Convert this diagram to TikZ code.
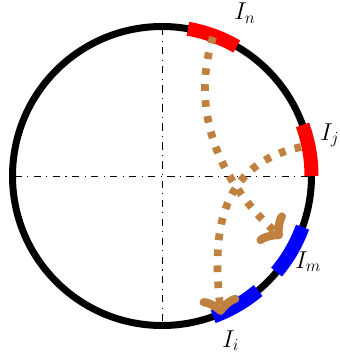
\documentclass[tikz,border=0pt]{standalone}
\usepackage{graphicx}
\usetikzlibrary{arrows.meta}
\begin{document}
\begin{tikzpicture}[x=0.75pt,y=-0.75pt,
  axisline/.style={line width=0.6pt, dash pattern=on 5.5pt off 4pt on 0.8pt off 4pt},
  ring/.style={line width=5.25pt},
  redarc/.style={red, line width=10.5pt},
  bluearc/.style={blue, line width=10.5pt},
  flow/.style={draw={rgb,255:red,191;green,128;blue,64}, line width=5.8pt,
    dash pattern=on 5pt off 7pt,
    -{Classical TikZ Rightarrow[length=14pt,width=30pt,line width=6.2pt,round]}},
  lbl/.style={inner sep=0pt, anchor=base west, font=\LARGE}]
\useasboundingbox (0,0) rectangle (339,353);
\coordinate (O) at (162,176);
% axes
\draw[axisline] ([xshift=-110.5pt]O) -- ([xshift=110.5pt]O);
\draw[axisline] ([yshift=111pt]O) -- ([yshift=-111pt]O);
% circle
\draw[ring] (O) circle[radius=112.125pt];
% intervals
\draw[redarc] ([shift={(60:112.125pt)}]O) arc[start angle=60, end angle=80, radius=112.125pt];
\draw[redarc] ([shift={(0:112.125pt)}]O) arc[start angle=0, end angle=20, radius=112.125pt];
\draw[bluearc] ([shift={(-40:112.125pt)}]O) arc[start angle=-40, end angle=-20, radius=112.125pt];
\draw[bluearc] ([shift={(-70:112.125pt)}]O) arc[start angle=-70, end angle=-50, radius=112.125pt];
% flows
\coordinate (a1) at (213,37);
\coordinate (a2) at (282,238);
\coordinate (b1) at (301,147);
\coordinate (b2) at (221,315);
\draw[flow] (a1) .. controls (190,110) and (218,180) .. (a2);
\draw[flow] (b1) .. controls (215,165) and (213,240) .. (b2);
% labels
\node[lbl] (In) at (234,20) {\scalebox{1.06}{$I_n$}};
\node[lbl] (Ij) at (320,140) {\scalebox{1.06}{$I_j$}};
\node[lbl] (Im) at (295,268) {\scalebox{1.06}{$I_m$}};
\node[lbl] (Ii) at (222,347) {\scalebox{1.06}{$I_i$}};
\end{tikzpicture}
\end{document}
